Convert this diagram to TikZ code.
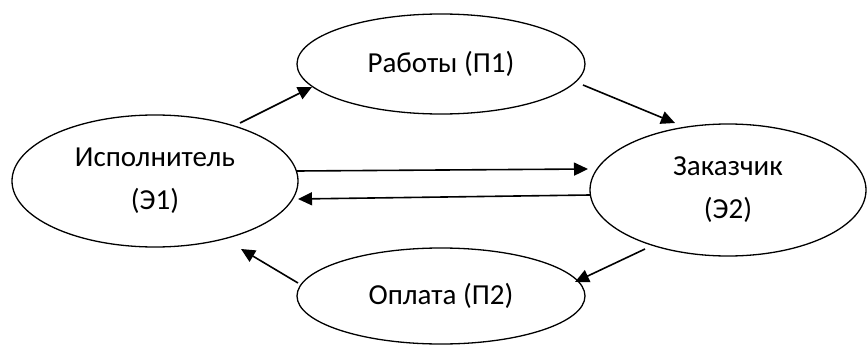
\documentclass[tikz,border=0pt]{standalone}
\usepackage{fontspec}
\setmainfont{Carlito}
\usetikzlibrary{shapes.geometric,arrows.meta,calc}
\begin{document}
\begin{tikzpicture}[x=1pt,y=-1pt,
  ent/.style={ellipse, draw, line width=1.3pt, inner sep=0pt, align=center, font=\fontsize{29}{43}\selectfont},
  flow/.style={line width=1.6pt, -{Triangle[length=14pt,width=13pt]}}]
\useasboundingbox (0,0) rectangle (867,345);
\node[ent, minimum width=286pt, minimum height=132pt] (E1) at (155,181) {Исполнитель\\(Э1)};
\node[ent, minimum width=276pt, minimum height=132pt] (E2) at (728,190) {Заказчик\\(Э2)};
\node[ent, minimum width=288pt, minimum height=100pt] (P1) at (441,64) {Работы (П1)};
\node[ent, minimum width=288pt, minimum height=96pt] (P2) at (441,296) {Оплата (П2)};
\draw[flow] ($(E1.center)+(85,-58)$) -- ($(P1.center)+(-129,23)$);
\draw[flow] ($(P1.center)+(142,21)$) -- ($(E2.center)+(-53,-67)$);
\draw[flow] ($(E1.center)+(142,-10)$) -- ($(E2.center)+(-140,-21)$);
\draw[flow] ($(E2.center)+(-138,5)$) -- ($(E1.center)+(143,18)$);
\draw[flow] ($(E2.center)+(-83,59)$) -- ($(P2.center)+(134,-14)$);
\draw[flow] ($(P2.center)+(-143,-13)$) -- ($(E1.center)+(86,68)$);
\end{tikzpicture}
\end{document}
